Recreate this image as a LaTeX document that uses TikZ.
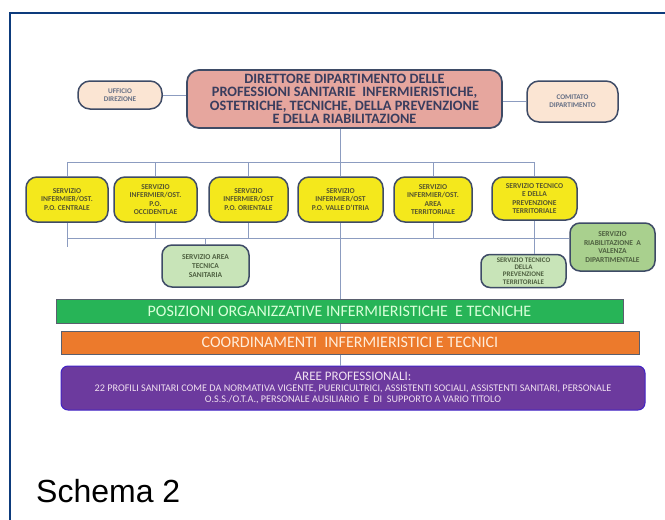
\documentclass[tikz,border=0pt]{standalone}
\usepackage{fontspec}
\setmainfont{Carlito}
\newfontfamily\schemafont{Liberation Sans}
\usetikzlibrary{positioning, calc}

\definecolor{framenavy}{HTML}{0D3B7C}
\definecolor{linkblue}{HTML}{8C9CC0}
\definecolor{edgeslate}{HTML}{3E4B66}
\definecolor{dirpink}{HTML}{E6A69E}
\definecolor{dirtext}{HTML}{3A3D5E}
\definecolor{peach}{HTML}{FBE5D3}
\definecolor{servyellow}{HTML}{F4E81C}
\definecolor{olivetext}{HTML}{56562E}
\definecolor{palegreen}{HTML}{C8E4B8}
\definecolor{midgreen}{HTML}{A9D08E}
\definecolor{greentext}{HTML}{4E6040}
\definecolor{bargreen}{HTML}{27B457}
\definecolor{barorange}{HTML}{EC7A2C}
\definecolor{barpurple}{HTML}{6C3A9E}
\definecolor{bargray}{HTML}{5A5F6E}

\begin{document}
\begin{tikzpicture}[x=1pt, y=-1pt,
	link/.style={draw=linkblue, line width=0.9pt},
	pill/.style={draw=edgeslate, line width=1.5pt, rounded corners=11pt, align=center, inner sep=0pt, font=\bfseries\fontsize{7.5}{8.6}\selectfont},
	yellowbox/.style={pill, fill=servyellow, text=olivetext, minimum height=45pt},
	greenbox/.style={pill, fill=palegreen, text=greentext, rounded corners=10pt},
	peachbox/.style={pill, fill=peach, text=edgeslate!80, font=\bfseries\fontsize{7.2}{7.8}\selectfont, rounded corners=12pt},
	bar/.style={draw=bargray, line width=1pt, inner sep=0pt, font=\fontsize{16}{18}\selectfont}
	]
	\useasboundingbox (0,0) rectangle (665,520);
	
	% Frame
	\draw[framenavy, line width=2pt] (10,520) -- (10,13) -- (665,13);
	
	% Direttore and staff
	\node[pill, fill=dirpink, text=dirtext, minimum width=315pt, minimum height=58pt, rounded corners=12pt, line width=1.7pt,
	font=\bfseries\fontsize{14.3}{13.4}\selectfont] (dir) at (344.5,99)
	{DIRETTORE DIPARTIMENTO DELLE\\PROFESSIONI SANITARIE~ INFERMIERISTICHE,\\OSTETRICHE, TECNICHE, DELLA PREVENZIONE\\E DELLA RIABILITAZIONE};
	\node[peachbox, minimum width=84pt, minimum height=28pt] (uff) at (120,95) {UFFICIO\\DIREZIONE};
	\node[peachbox, minimum width=91pt, minimum height=41pt] (com) at (572.5,101.5) {COMITATO\\DIPARTIMENTO};
	\draw[link] (uff.east) -- (uff.east -| dir.west);
	\draw[link] (com.west) -- (com.west -| dir.east);
	
	% Servizi
	\node[yellowbox, minimum width=82pt] (s1) at (67,199.5) {SERVIZIO\\INFERMIER/OST.\\P.O. CENTRALE};
	\node[yellowbox, minimum width=83pt] (s2) at (155.5,199.5) {SERVIZIO\\INFERMIER/OST.\\P.O.\\OCCIDENTLAE};
	\node[yellowbox, minimum width=79pt] (s3) at (248.5,199.5) {SERVIZIO\\INFERMIER/OST\\P.O. ORIENTALE};
	\node[yellowbox, minimum width=85pt] (s4) at (340.5,199.5) {SERVIZIO\\INFERMIER/OST\\P.O. VALLE D'ITRIA};
	\node[yellowbox, minimum width=78pt] (s5) at (433,199.5) {SERVIZIO\\INFERMIER/OST.\\AREA\\TERRITORIALE};
	\node[yellowbox, minimum width=85pt, minimum height=43pt] (s6) at (534.5,198.5) {SERVIZIO TECNICO\\E DELLA\\PREVENZIONE\\TERRITORIALE};
	
	\node[greenbox, minimum width=87pt, minimum height=42pt] (areatec) at (205.5,266) {SERVIZIO AREA\\TECNICA\\SANITARIA};
	\node[greenbox, minimum width=85pt, minimum height=33pt, rounded corners=9pt, font=\bfseries\fontsize{7}{7.4}\selectfont] (tecprev) at (523.5,271) {SERVIZIO TECNICO\\DELLA\\PREVENZIONE\\TERRITORIALE};
	\node[greenbox, fill=midgreen, minimum width=85pt, minimum height=48pt] (riab) at (612.5,247) {SERVIZIO\\RIABILITAZIONE~ A\\VALENZA\\DIPARTIMENTALE};
	
	% Upper bus
	\coordinate (topbus) at (340,162);
	\draw[link] (dir.south -| topbus) -- (topbus);
	\draw[link] (s1.north) -- (s1.north |- topbus) -- (s6.north |- topbus) -- (s6.north);
	\foreach \s in {s2, s3, s4, s5}
		\draw[link] (\s.north) -- (\s.north |- topbus);
	
	% Lower bus
	\coordinate (lowbus) at (68,238);
	\draw[link] (s1.south) -- ++(0,24);
	\draw[link] (lowbus) -- (lowbus -| riab.west);
	\foreach \s in {s2, s3, s5}
		\draw[link] (\s.south) -- (\s.south |- lowbus);
	\draw[link] (s6.south) -- (tecprev.north -| s6.south);
	\draw[link] (areatec.north) -- (areatec.north |- lowbus);
	
	% Bars
	\node[bar, fill=bargreen, text=green!15, minimum width=567pt, minimum height=24pt] (posiz) at (339.5,311)
	{POSIZIONI ORGANIZZATIVE INFERMIERISTICHE~ E TECNICHE};
	\node[bar, fill=barorange, text=orange!15, minimum width=578pt, minimum height=23pt] (coord) at (350,342.5)
	{COORDINAMENTI~ INFERMIERISTICI E TECNICI};
	\node[bar, fill=barpurple, draw=barpurple!60!blue, text=violet!12, minimum width=584pt, minimum height=44pt, rounded corners=7pt,
	align=center, font=\fontsize{10.2}{11.2}\selectfont] (aree) at (353,388)
	{{\fontsize{13}{13}\selectfont AREE PROFESSIONALI:}\\22 PROFILI SANITARI COME DA NORMATIVA VIGENTE, PUERICULTRICI, ASSISTENTI SOCIALI, ASSISTENTI SANITARI, PERSONALE\\O.S.S./O.T.A., PERSONALE AUSILIARIO~ E~ DI~ SUPPORTO A VARIO TITOLO};
	
	\draw[link] (s4.south) -- (s4.south |- posiz.north);
	\draw[link] (s4.south |- posiz.south) -- (s4.south |- coord.north);
	\draw[link] (s4.south |- coord.south) -- (s4.south |- aree.north);
	
	% Caption
	\node[anchor=base west, inner sep=0pt, font=\schemafont\fontsize{32}{36}\selectfont] (caption) at (36,502) {Schema 2};
\end{tikzpicture}
\end{document}
